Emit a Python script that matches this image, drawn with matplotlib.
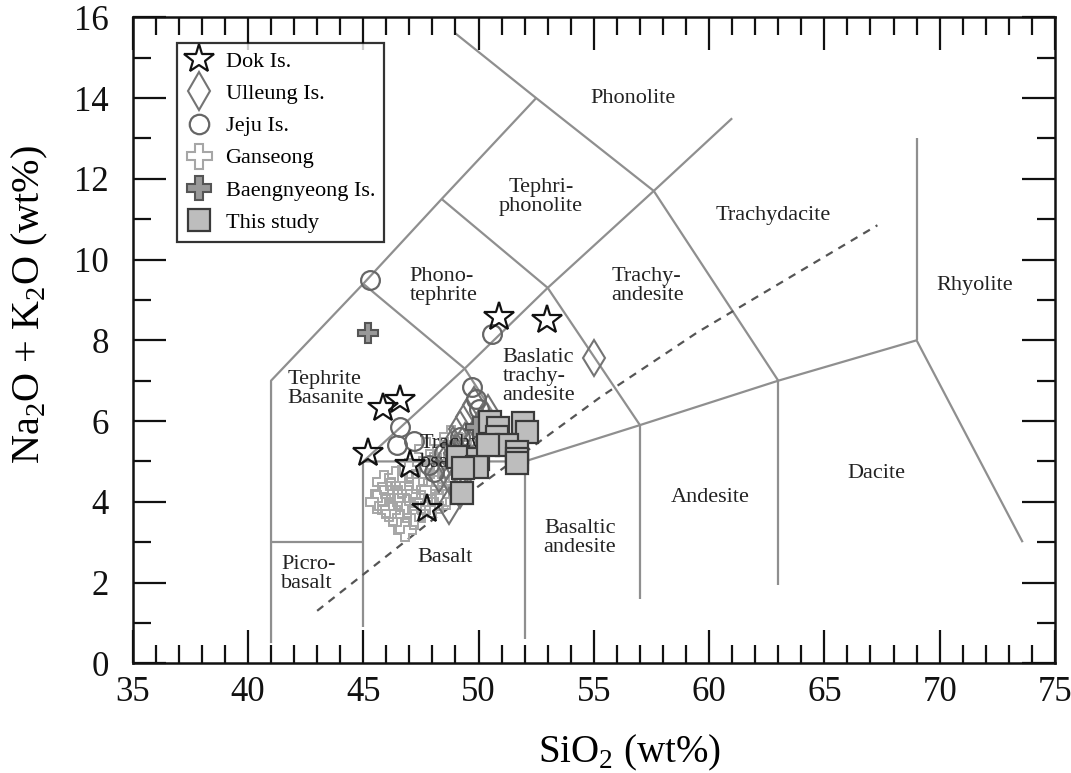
import matplotlib as mpl
mpl.use('Agg')
import matplotlib.pyplot as plt
from matplotlib.lines import Line2D

plt.rcParams['font.family'] = ['Liberation Serif', 'DejaVu Serif']
plt.rcParams['mathtext.fontset'] = 'custom'
plt.rcParams['mathtext.rm'] = 'Liberation Serif'

# TAS field boundaries (SiO2, Na2O+K2O)
tas_lines = [
    [(41, 0.5), (41, 7), (45, 9.4), (48.4, 11.5), (52.5, 14), (57.6, 11.7), (63, 7)],
    [(49.0, 15.6), (52.5, 14)],
    [(45, 5), (49.4, 7.3), (53, 9.3), (57.6, 11.7), (61, 13.5)],
    [(45, 9.4), (49.4, 7.3), (52, 5)],
    [(48.4, 11.5), (53, 9.3), (57, 5.9)],
    [(45, 5), (52, 5), (57, 5.9), (63, 7), (69, 8), (73.6, 3.0)],
    [(41, 3), (45, 3)],
    [(45, 0.9), (45, 5)],
    [(52, 0.6), (52, 5)],
    [(57, 1.6), (57, 5.9)],
    [(63, 1.95), (63, 7)],
    [(69, 8), (69, 13)],
]
divide_x = [43.0, 48.0, 55.3, 59.5, 67.3]
divide_y = [1.3, 3.55, 6.6, 8.2, 10.85]

# field names: (text, x, y, ha)
field_labels = [
    ("Phonolite", 56.7, 14.0, 'center'),
    ("Tephri-\nphonolite", 52.7, 11.55, 'center'),
    ("Trachydacite", 62.8, 11.1, 'center'),
    ("Rhyolite", 71.5, 9.35, 'center'),
    ("Phono-\ntephrite", 47.0, 9.35, 'left'),
    ("Trachy-\nandesite", 55.75, 9.35, 'left'),
    ("Baslatic\ntrachy-\nandesite", 51.05, 7.1, 'left'),
    ("Tephrite\nBasanite", 41.7, 6.8, 'left'),
    ("Trachy\nbsasalt", 47.45, 5.2, 'left'),
    ("Andesite", 60.05, 4.1, 'center'),
    ("Dacite", 67.25, 4.7, 'center'),
    ("Basaltic\nandesite", 54.4, 3.1, 'center'),
    ("Basalt", 48.55, 2.62, 'center'),
    ("Picro-\nbasalt", 41.45, 2.2, 'left'),
]

dok_x = [50.9, 52.95, 46.6, 45.87, 45.22, 47.03, 47.78]
dok_y = [8.58, 8.5, 6.52, 6.33, 5.2, 4.9, 3.82]

ulleung_x = [55.0, 48.9, 49.2, 49.5, 49.8, 50.1, 50.4, 48.6, 49.0, 49.4, 48.3, 48.8, 49.2, 49.6, 48.7, 49.9]
ulleung_y = [7.55, 5.4, 5.8, 6.1, 6.4, 5.9, 6.2, 5.0, 5.2, 5.5, 4.7, 4.6, 4.3, 4.9, 3.9, 5.6]

jeju_x = [45.3, 50.6, 49.7, 49.9, 50.0, 46.6, 46.45, 47.2, 47.85, 48.05, 48.5, 49.2]
jeju_y = [9.5, 8.15, 6.85, 6.55, 6.3, 5.85, 5.4, 5.5, 4.9, 4.75, 5.2, 5.6]

ganseong_x = [45.6, 45.8, 46.0, 46.2, 46.3, 46.5, 46.6, 46.7, 46.9, 47.0, 47.2, 47.3, 47.5,
              47.6, 47.8, 47.9, 48.1, 48.2, 48.4, 48.5, 48.7, 48.8, 49.0, 47.0, 46.4, 48.0,
              45.9, 46.8, 47.4, 48.3, 48.9, 47.7, 46.1, 49.2, 48.6]
ganseong_y = [4.0, 4.2, 3.9, 4.3, 3.7, 4.1, 3.5, 4.4, 3.9, 4.2, 3.6, 4.5, 4.0,
              4.7, 4.3, 5.0, 4.5, 4.9, 4.2, 5.3, 4.7, 5.6, 5.1, 4.8, 4.6, 3.9,
              4.5, 3.3, 3.8, 4.0, 4.4, 5.3, 3.8, 5.4, 4.1]

baeng_x = [45.22, 49.9]
baeng_y = [8.18, 5.85]

study_x = [50.49, 50.85, 51.94, 52.09, 50.79, 51.22, 51.65, 51.65, 51.65, 49.12, 49.99, 49.92, 49.34, 49.27, 50.42]
study_y = [5.98, 5.82, 5.94, 5.73, 5.61, 5.40, 5.24, 5.07, 4.95, 5.11, 5.07, 4.87, 4.83, 4.21, 5.40]

x_ticks = list(range(35, 76, 5))
y_ticks = list(range(0, 17, 2))

fig = plt.figure(figsize=(10.71, 7.73), dpi=100)
ax = fig.add_axes([0.1239, 0.1419, 0.8611, 0.8357])

line_col = '#8f8f8f'
for seg in tas_lines:
    ax.plot([p[0] for p in seg], [p[1] for p in seg], color=line_col, lw=1.6, zorder=1,
            solid_capstyle='butt')
ax.plot(divide_x, divide_y, color='#555555', lw=1.6, linestyle=(0, (3.5, 3)), zorder=1)

# open symbols first, names on top of them, filled squares and stars last
ax.plot(ganseong_x, ganseong_y, 'P', ms=16, mfc='none', mec='#a6a6a6', mew=1.4, ls='none', zorder=3)
ax.plot(ulleung_x, ulleung_y, 'd', ms=18, mfc='none', mec='#747474', mew=1.5, ls='none', zorder=3.2)
ax.plot(jeju_x, jeju_y, 'o', ms=13.5, mfc='none', mec='#666666', mew=1.6, ls='none', zorder=3.4)
ax.plot(baeng_x, baeng_y, 'P', ms=15, mfc='#999999', mec='#555555', mew=1.5, ls='none', zorder=3.6)

for txt, x, y, ha in field_labels:
    ax.text(x, y, txt, ha=ha, va='center', fontsize=16, multialignment=ha,
            linespacing=1.0, color='#222222', zorder=3.8)

ax.plot(study_x, study_y, 's', ms=16, mfc='#bdbdbd', mec='#3a3a3a', mew=1.6, ls='none', zorder=4)
ax.plot(dok_x, dok_y, '*', ms=22, mfc='none', mec='#111111', mew=1.6, ls='none', zorder=4.2)

handles = [
    Line2D([], [], marker='*', ms=22, mfc='white', mec='#111111', mew=1.6, ls='none'),
    Line2D([], [], marker='d', ms=19, mfc='white', mec='#747474', mew=1.5, ls='none'),
    Line2D([], [], marker='o', ms=14, mfc='white', mec='#666666', mew=1.6, ls='none'),
    Line2D([], [], marker='P', ms=18, mfc='white', mec='#a6a6a6', mew=1.5, ls='none'),
    Line2D([], [], marker='P', ms=17, mfc='#999999', mec='#555555', mew=1.5, ls='none'),
    Line2D([], [], marker='s', ms=16, mfc='#bdbdbd', mec='#3a3a3a', mew=1.6, ls='none'),
]
names = ["Dok Is.", "Ulleung Is.", "Jeju Is.", "Ganseong", "Baengnyeong Is.", "This study"]
leg = ax.legend(handles, names, loc='upper left', bbox_to_anchor=(0.0477, 0.9607),
                borderaxespad=0, fontsize=16, frameon=True, fancybox=False,
                handlelength=1.2, handletextpad=0.6, labelspacing=0.52,
                borderpad=0.4, edgecolor='black')
leg.get_frame().set_linewidth(1.6)
leg.set_zorder(5)

ax.set_xlim(35, 75)
ax.set_ylim(0, 16)
ax.set_xticks(x_ticks)
ax.set_yticks(y_ticks)
ax.set_xticks(range(35, 76), minor=True)
ax.set_yticks(range(0, 17), minor=True)
ax.tick_params(which='both', direction='in', top=True, right=True, width=1.6, colors='#111111')
ax.tick_params(which='major', length=24, labelsize=25)
ax.tick_params(axis='x', which='major', pad=9)
ax.tick_params(axis='y', which='major', pad=17)
ax.tick_params(which='minor', length=13)
for s in ax.spines.values():
    s.set_linewidth(1.8)
    s.set_color('#111111')

ax.set_xlabel("SiO$_2$ (wt%)", fontsize=28)
ax.set_ylabel("Na$_2$O + K$_2$O (wt%)", fontsize=29)
ax.xaxis.set_label_coords(0.539, -0.108)
ax.yaxis.set_label_coords(-0.09, 0.555)

fig.savefig("out.png", dpi=100)
